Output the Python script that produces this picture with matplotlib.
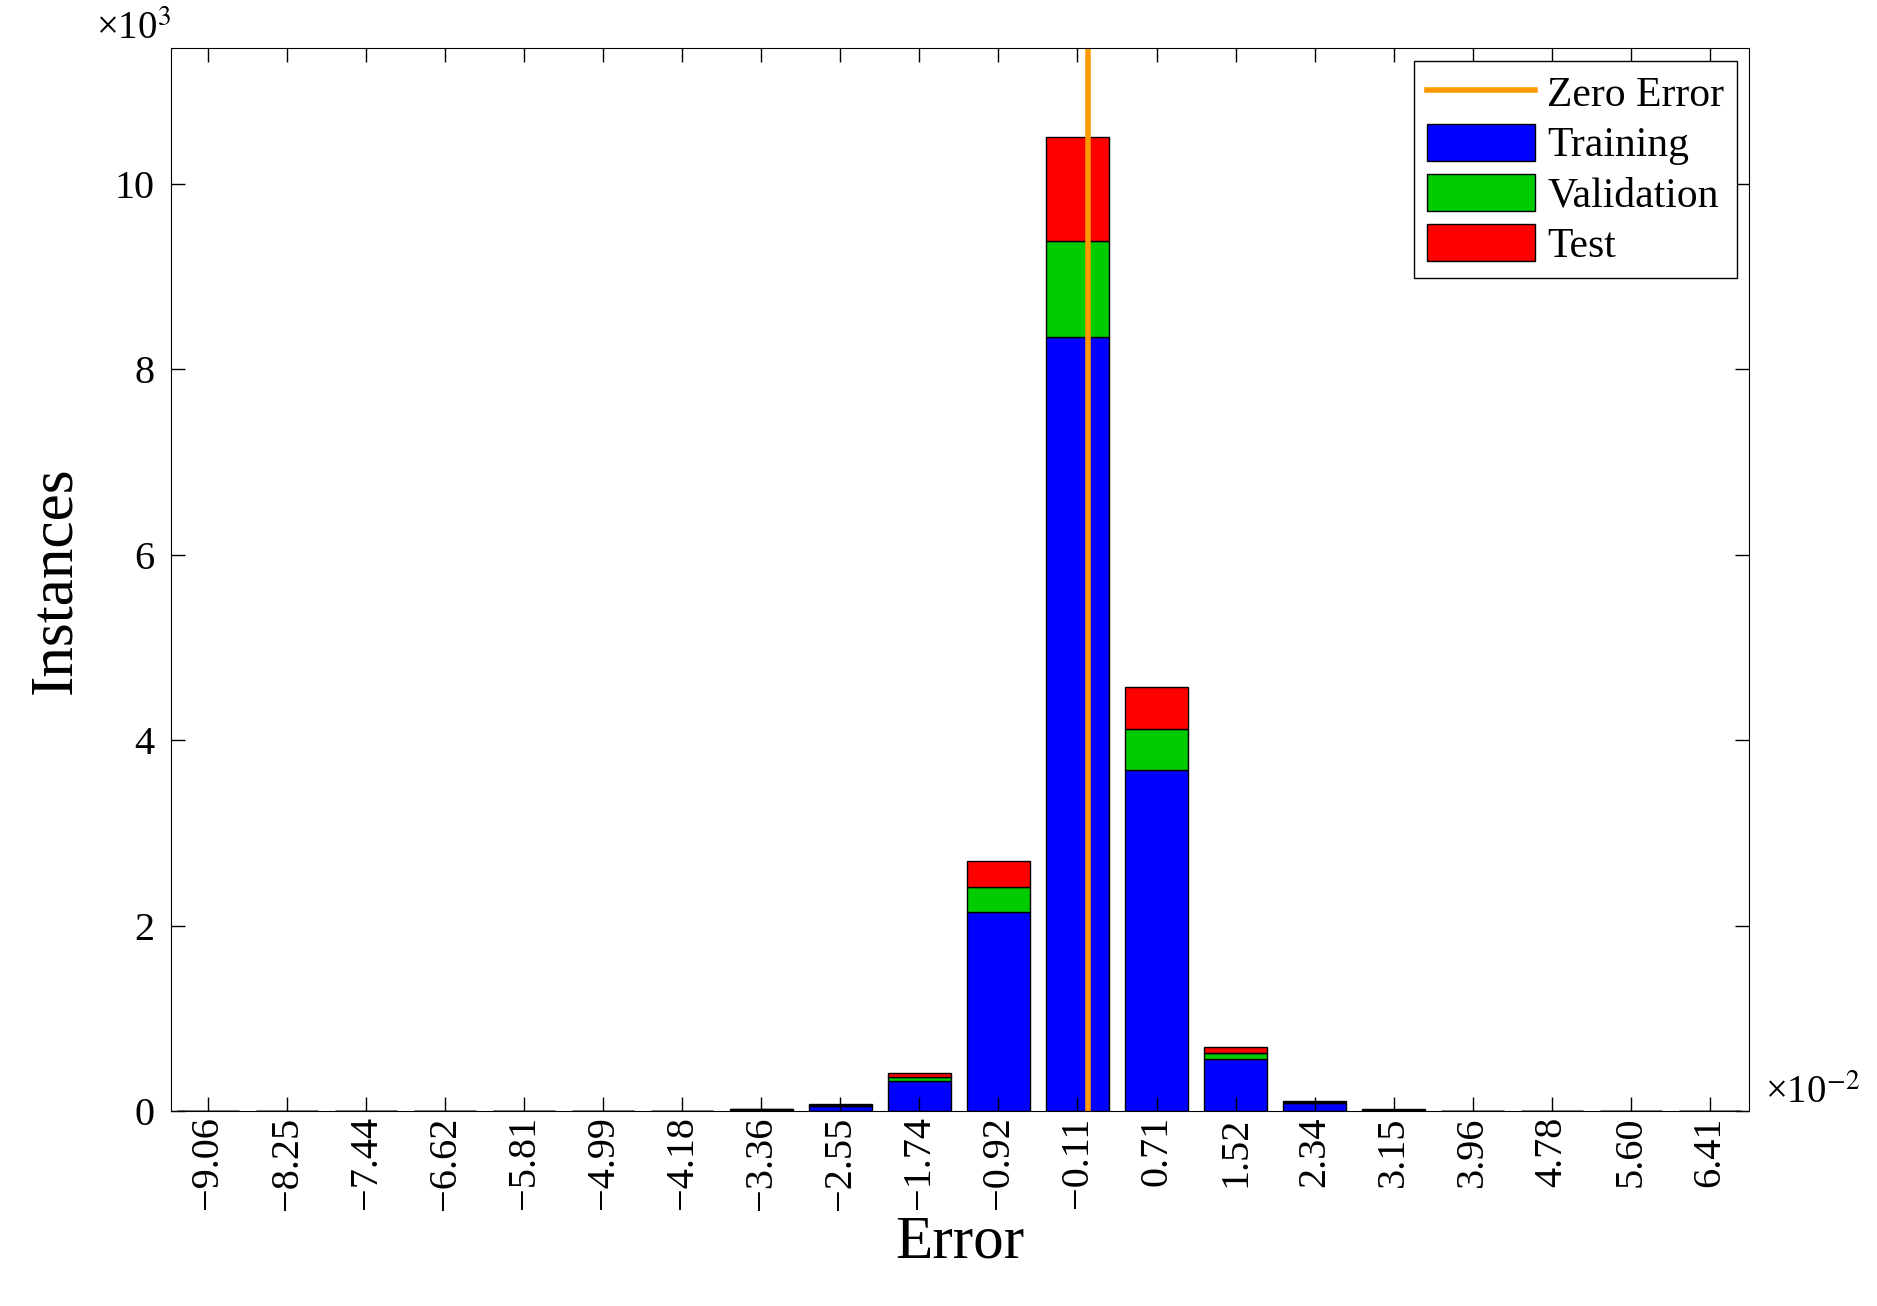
import numpy as np
import matplotlib
matplotlib.use("Agg")
import matplotlib.pyplot as plt

plt.rcParams['font.family'] = ['Liberation Serif', 'DejaVu Serif']
plt.rcParams['mathtext.fontset'] = 'stix'

bins = [-9.06, -8.25, -7.44, -6.62, -5.81, -4.99, -4.18, -3.36, -2.55, -1.74,
        -0.92, -0.11, 0.71, 1.52, 2.34, 3.15, 3.96, 4.78, 5.60, 6.41]
labels = ['\u22129.06', '\u22128.25', '\u22127.44', '\u22126.62', '\u22125.81', '\u22124.99',
          '\u22124.18', '\u22123.36', '\u22122.55', '\u22121.74', '\u22120.92', '\u22120.11',
          '0.71', '1.52', '2.34', '3.15', '3.96', '4.78', '5.60', '6.41']
training = [2, 2, 2, 2, 2, 2, 3, 20, 60, 330, 2150, 8350, 3680, 560, 90, 15, 3, 2, 2, 2]
validation = [0, 0, 0, 0, 0, 0, 1, 5, 10, 40, 270, 1030, 440, 70, 10, 5, 1, 0, 0, 0]
test = [0, 0, 0, 0, 0, 0, 1, 5, 10, 40, 280, 1120, 460, 60, 10, 5, 1, 0, 0, 0]

x = np.arange(len(bins))
tr = np.array(training) / 1000
va = np.array(validation) / 1000
te = np.array(test) / 1000

fig = plt.figure(figsize=(18.77, 13.06), dpi=100)
ax = fig.add_axes([0.091, 0.149, 0.841, 0.814])
w = 0.79
ax.bar(x, tr, w, color='#0000ff', edgecolor='black', linewidth=1, label='Training')
ax.bar(x, va, w, bottom=tr, color='#00cc00', edgecolor='black', linewidth=1, label='Validation')
ax.bar(x, te, w, bottom=tr + va, color='#ff0000', edgecolor='black', linewidth=1, label='Test')
zero = 11 + (0 - bins[11]) / (bins[12] - bins[11])
ax.axvline(zero, color='#ff9900', linewidth=4, label='Zero Error')

ax.set_xlim(-0.47, 19.5)
ax.set_ylim(0, 11.46)
ax.set_xticks(x)
ax.set_xticklabels(labels, rotation=90, fontsize=29)
ax.set_yticks([0, 2, 4, 6, 8, 10])
ax.tick_params(axis='y', labelsize=29, pad=12)
ax.tick_params(direction='in', top=True, right=True, length=10, width=1)
ax.set_xlabel('Error', fontsize=44, labelpad=4)
ax.set_ylabel('Instances', fontsize=44, labelpad=22)
ax.text(0.0, 1.0, '\u00d710$^3$', transform=ax.transAxes, ha='right', va='bottom', fontsize=28)
ax.text(1.01, 0.0, '\u00d710$^{-2}$', transform=ax.transAxes, ha='left', va='bottom', fontsize=28)

leg = ax.legend(loc='upper right', fontsize=30, fancybox=False, framealpha=1,
                edgecolor='black', handlelength=2.6, handleheight=1.0,
                borderaxespad=0.3, labelspacing=0.2, handletextpad=0.3,
                borderpad=0.3)
leg.get_frame().set_linewidth(1)

fig.savefig('out.png', dpi=100, facecolor='white')
